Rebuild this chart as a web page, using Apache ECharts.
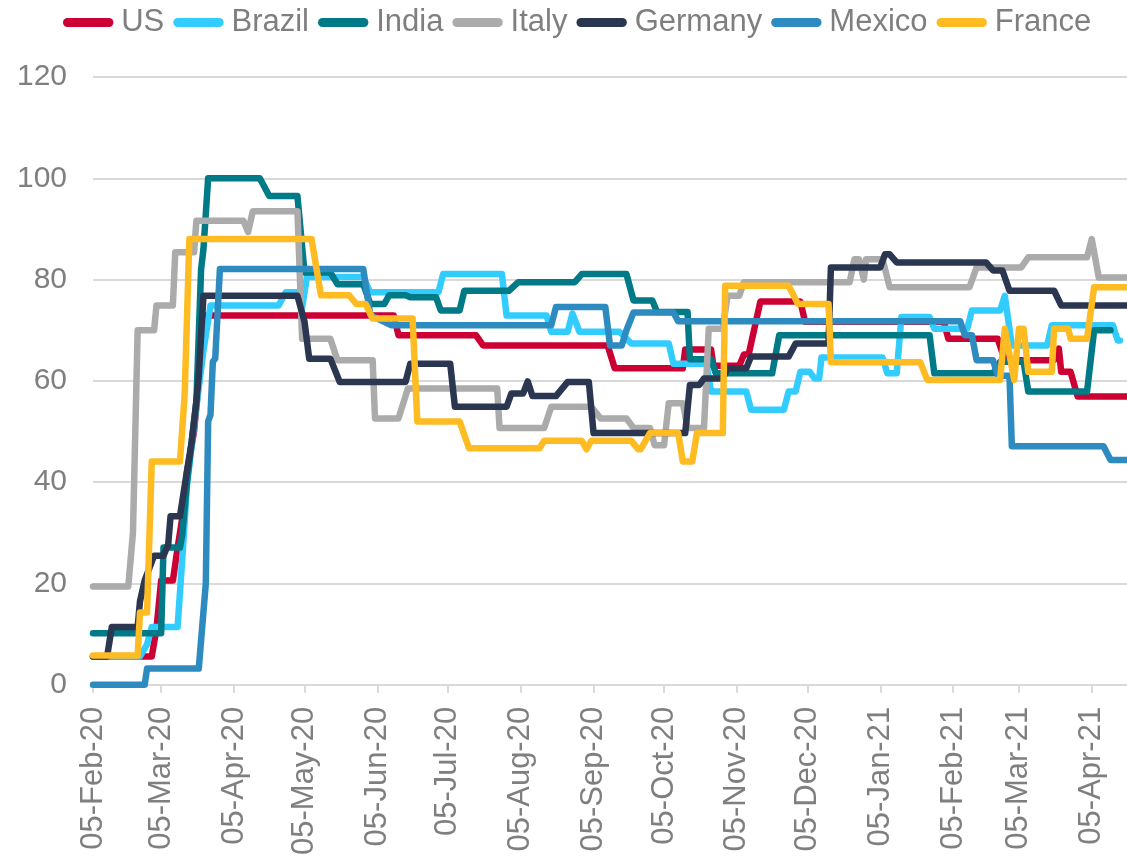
<!DOCTYPE html>
<html>
<head>
<meta charset="utf-8">
<script src="https://cdn.jsdelivr.net/npm/echarts@6/dist/echarts.min.js"></script>
<style>
  html, body { margin: 0; padding: 0; background: #fff; }
  #chart { width: 1127px; height: 858px; }
</style>
</head>
<body>
<div id="chart"></div>
<script>
// stringency index: [date, value] at each turning point
const us = [
  ['2020-02-05', 5.6], ['2020-03-01', 5.6], ['2020-03-03', 11], ['2020-03-05', 20.6], ['2020-03-10', 20.6],
  ['2020-03-12', 27], ['2020-03-14', 33], ['2020-03-16', 42], ['2020-03-19', 50], ['2020-03-21', 60],
  ['2020-03-24', 72.9], ['2020-06-12', 72.9], ['2020-06-14', 69], ['2020-07-17', 69], ['2020-07-20', 67],
  ['2020-09-11', 67], ['2020-09-14', 62.5], ['2020-10-13', 62.5], ['2020-10-14', 66.2], ['2020-10-25', 66.2],
  ['2020-10-26', 63], ['2020-11-06', 63], ['2020-11-08', 65.2], ['2020-11-10', 65.2], ['2020-11-15', 75.7],
  ['2020-12-02', 75.7], ['2020-12-04', 71.7], ['2021-02-01', 71.7], ['2021-02-03', 68.3], ['2021-02-24', 68.3],
  ['2021-02-27', 64.1], ['2021-03-20', 64.1], ['2021-03-22', 66.4], ['2021-03-23', 61.8], ['2021-03-27', 61.8],
  ['2021-03-30', 56.9], ['2021-04-20', 56.9]
];
const brazil = [
  ['2020-02-05', 5.6], ['2020-02-25', 5.6], ['2020-02-28', 8], ['2020-03-01', 11.4], ['2020-03-12', 11.4],
  ['2020-03-14', 25], ['2020-03-16', 39.5], ['2020-03-20', 55], ['2020-03-23', 66], ['2020-03-26', 74.9],
  ['2020-04-24', 74.9], ['2020-04-27', 77.5], ['2020-05-02', 77.5], ['2020-05-04', 74.5], ['2020-05-06', 80.5],
  ['2020-05-30', 80.5], ['2020-06-02', 77.5], ['2020-07-01', 77.5], ['2020-07-03', 81.1], ['2020-07-28', 81.1],
  ['2020-07-30', 72.9], ['2020-08-16', 72.9], ['2020-08-18', 69.7], ['2020-08-25', 69.7], ['2020-08-27', 73.3],
  ['2020-08-30', 69.7], ['2020-09-16', 69.7], ['2020-09-21', 67.4], ['2020-10-07', 67.4], ['2020-10-09', 63.4],
  ['2020-10-23', 63.4], ['2020-10-25', 57.9], ['2020-11-09', 57.9], ['2020-11-11', 54.3], ['2020-11-25', 54.3],
  ['2020-11-27', 57.9], ['2020-11-30', 57.9], ['2020-12-02', 61.8], ['2020-12-06', 61.8], ['2020-12-08', 60.5],
  ['2020-12-10', 60.5], ['2020-12-11', 64.6], ['2021-01-06', 64.6], ['2021-01-08', 61.5], ['2021-01-12', 61.5],
  ['2021-01-14', 72.6], ['2021-01-26', 72.6], ['2021-01-28', 70.3], ['2021-02-11', 70.3], ['2021-02-13', 73.9],
  ['2021-02-25', 73.9], ['2021-02-27', 76.8], ['2021-03-02', 67], ['2021-03-17', 67], ['2021-03-19', 71],
  ['2021-04-14', 71], ['2021-04-16', 68], ['2021-04-17', 68]
];
const india = [
  ['2020-02-05', 10.2], ['2020-03-05', 10.2], ['2020-03-06', 27.1], ['2020-03-13', 27.1], ['2020-03-14', 29.7],
  ['2020-03-16', 40], ['2020-03-20', 56], ['2020-03-22', 82], ['2020-03-23', 86], ['2020-03-25', 100],
  ['2020-04-16', 100], ['2020-04-20', 96.5], ['2020-05-02', 96.5], ['2020-05-05', 81.4], ['2020-05-16', 81.4],
  ['2020-05-19', 79.1], ['2020-05-30', 79.1], ['2020-06-02', 75.2], ['2020-06-08', 75.2], ['2020-06-10', 76.9],
  ['2020-06-17', 76.9], ['2020-06-19', 76.5], ['2020-06-30', 76.5], ['2020-07-02', 73.9], ['2020-07-10', 73.9],
  ['2020-07-12', 77.8], ['2020-07-31', 77.8], ['2020-08-04', 79.5], ['2020-08-28', 79.5], ['2020-08-31', 81.1],
  ['2020-09-19', 81.1], ['2020-09-22', 75.9], ['2020-09-30', 75.9], ['2020-10-02', 73.6], ['2020-10-15', 73.6],
  ['2020-10-16', 64.3], ['2020-10-25', 64.3], ['2020-10-27', 61.5], ['2020-11-20', 61.5], ['2020-11-23', 69],
  ['2021-01-26', 69], ['2021-01-28', 61.5], ['2021-02-22', 61.5], ['2021-02-25', 63.8], ['2021-03-07', 63.8],
  ['2021-03-09', 57.9], ['2021-04-03', 57.9], ['2021-04-06', 70], ['2021-04-13', 70]
];
const italy = [
  ['2020-02-05', 19.4], ['2020-02-20', 19.4], ['2020-02-22', 30], ['2020-02-24', 70], ['2020-03-02', 70],
  ['2020-03-03', 74.9], ['2020-03-10', 74.9], ['2020-03-11', 85.4], ['2020-03-19', 85.4], ['2020-03-20', 91.6],
  ['2020-04-09', 91.6], ['2020-04-11', 89.4], ['2020-04-13', 93.5], ['2020-05-02', 93.5], ['2020-05-04', 68.3],
  ['2020-05-16', 68.3], ['2020-05-19', 64.1], ['2020-06-03', 64.1], ['2020-06-04', 52.6], ['2020-06-14', 52.6],
  ['2020-06-18', 58.5], ['2020-07-26', 58.5], ['2020-07-27', 50.7], ['2020-08-15', 50.7], ['2020-08-18', 54.9],
  ['2020-09-04', 54.9], ['2020-09-08', 52.6], ['2020-09-19', 52.6], ['2020-09-22', 50.7], ['2020-09-29', 50.7],
  ['2020-10-01', 47.3], ['2020-10-05', 47.3], ['2020-10-07', 55.6], ['2020-10-13', 55.6], ['2020-10-15', 50.7],
  ['2020-10-22', 50.7], ['2020-10-24', 70.3], ['2020-10-30', 70.3], ['2020-11-01', 76.8], ['2020-11-06', 76.8],
  ['2020-11-08', 79.5], ['2020-12-23', 79.5], ['2020-12-25', 84], ['2020-12-27', 84], ['2020-12-29', 80],
  ['2020-12-30', 84], ['2021-01-06', 84], ['2021-01-09', 78.5], ['2021-02-12', 78.5], ['2021-02-15', 82.4],
  ['2021-03-06', 82.4], ['2021-03-09', 84.4], ['2021-04-03', 84.4], ['2021-04-05', 88], ['2021-04-08', 80.4],
  ['2021-04-20', 80.4]
];
const germany = [
  ['2020-02-05', 5.6], ['2020-02-11', 5.6], ['2020-02-13', 11.4], ['2020-02-24', 11.4], ['2020-02-25', 16.5],
  ['2020-02-27', 20.6], ['2020-03-02', 25.5], ['2020-03-06', 25.5], ['2020-03-08', 27.7], ['2020-03-09', 33.3],
  ['2020-03-13', 33.3], ['2020-03-16', 42.2], ['2020-03-18', 48], ['2020-03-20', 56], ['2020-03-21', 61],
  ['2020-03-23', 76.8], ['2020-05-02', 76.8], ['2020-05-05', 71.7], ['2020-05-07', 64.4], ['2020-05-16', 64.4],
  ['2020-05-20', 59.8], ['2020-06-17', 59.8], ['2020-06-19', 63.4], ['2020-07-06', 63.4], ['2020-07-08', 54.9],
  ['2020-07-30', 54.9], ['2020-08-01', 57.5], ['2020-08-06', 57.5], ['2020-08-08', 59.9], ['2020-08-10', 57],
  ['2020-08-20', 57], ['2020-08-25', 59.8], ['2020-09-03', 59.8], ['2020-09-05', 49.7], ['2020-10-14', 49.7],
  ['2020-10-16', 59.2], ['2020-10-20', 59.2], ['2020-10-22', 60.5], ['2020-10-30', 60.5], ['2020-11-01', 62.5],
  ['2020-11-09', 62.5], ['2020-11-11', 64.8], ['2020-11-27', 64.8], ['2020-11-30', 67.4], ['2020-12-14', 67.4],
  ['2020-12-15', 82.4], ['2021-01-05', 82.4], ['2021-01-07', 85], ['2021-01-09', 85], ['2021-01-12', 83.4],
  ['2021-02-19', 83.4], ['2021-02-22', 81.8], ['2021-02-26', 81.8], ['2021-03-01', 77.8], ['2021-03-20', 77.8],
  ['2021-03-23', 74.9], ['2021-04-20', 74.9]
];
const mexico = [
  ['2020-02-05', 0], ['2020-02-27', 0], ['2020-02-28', 3.2], ['2020-03-21', 3.2], ['2020-03-24', 20],
  ['2020-03-25', 52], ['2020-03-26', 53.3], ['2020-03-27', 63.8], ['2020-03-28', 64.4], ['2020-03-30', 82.1],
  ['2020-05-30', 82.1], ['2020-06-02', 73], ['2020-06-11', 71], ['2020-08-18', 71], ['2020-08-20', 74.6],
  ['2020-09-10', 74.6], ['2020-09-12', 67], ['2020-09-17', 67], ['2020-09-19', 70], ['2020-09-22', 73.5],
  ['2020-10-09', 73.5], ['2020-10-11', 71.8], ['2021-02-08', 71.8], ['2021-02-10', 69], ['2021-02-13', 69],
  ['2021-02-15', 64.1], ['2021-02-22', 64.1], ['2021-02-24', 61], ['2021-03-01', 61], ['2021-03-02', 47.1],
  ['2021-04-10', 47.1], ['2021-04-13', 44.4], ['2021-04-20', 44.4]
];
const france = [
  ['2020-02-05', 5.8], ['2020-02-24', 5.8], ['2020-02-25', 14.3], ['2020-02-28', 14.3], ['2020-03-01', 44.1],
  ['2020-03-13', 44.1], ['2020-03-15', 57.2], ['2020-03-17', 88], ['2020-05-08', 88], ['2020-05-12', 76.9],
  ['2020-05-24', 76.9], ['2020-05-27', 75.2], ['2020-05-31', 75.2], ['2020-06-03', 72.3], ['2020-06-20', 72.3],
  ['2020-06-22', 52], ['2020-07-10', 52], ['2020-07-14', 46.7], ['2020-08-13', 46.7], ['2020-08-15', 48.2],
  ['2020-08-31', 48.2], ['2020-09-02', 46.5], ['2020-09-04', 48.2], ['2020-09-21', 48.2], ['2020-09-24', 46.5],
  ['2020-09-25', 46.5], ['2020-09-29', 49.7], ['2020-10-11', 49.7], ['2020-10-13', 44.1], ['2020-10-17', 44.1],
  ['2020-10-19', 49.7], ['2020-10-30', 49.7], ['2020-10-31', 78.8], ['2020-11-27', 78.8], ['2020-12-01', 75.2],
  ['2020-12-14', 75.2], ['2020-12-15', 63.7], ['2021-01-22', 63.7], ['2021-01-25', 60.2], ['2021-02-25', 60.2],
  ['2021-02-27', 70.3], ['2021-03-03', 60.2], ['2021-03-05', 70.3], ['2021-03-07', 70.3], ['2021-03-09', 61.8],
  ['2021-03-19', 61.8], ['2021-03-20', 70.3], ['2021-03-26', 70.3], ['2021-03-27', 68.3], ['2021-04-03', 68.3],
  ['2021-04-06', 78.5], ['2021-04-20', 78.5]
];

const countries = ['US', 'Brazil', 'India', 'Italy', 'Germany', 'Mexico', 'France'];
const seriesData = [us, brazil, india, italy, germany, mexico, france];
const colors = ['#cc0033', '#33ccff', '#007a87', '#ababab', '#2b3650', '#2e8bc0', '#ffbb22'];

// x tick labels: the 5th of each month
const tickDates = ['2020-02-05', '2020-03-05', '2020-04-05', '2020-05-05', '2020-06-05', '2020-07-05',
  '2020-08-05', '2020-09-05', '2020-10-05', '2020-11-05', '2020-12-05', '2021-01-05', '2021-02-05',
  '2021-03-05', '2021-04-05'];
const monthNames = ['Jan', 'Feb', 'Mar', 'Apr', 'May', 'Jun', 'Jul', 'Aug', 'Sep', 'Oct', 'Nov', 'Dec'];

const ts = s => Date.parse(s);
const tickValues = tickDates.map(ts);

function fmtDate(v) {
  const d = new Date(v);
  const dd = String(d.getUTCDate()).padStart(2, '0');
  return dd + '-' + monthNames[d.getUTCMonth()] + '-' + String(d.getUTCFullYear()).slice(2);
}

const font = "'Liberation Sans', Arial, sans-serif";
const textGray = '#7f7f7f';
const gridGray = '#d9d9d9';

const chart = echarts.init(document.getElementById('chart'));

const option = {
  animation: false,
  color: colors,
  textStyle: { fontFamily: font },
  legend: {
    top: 2,
    left: 58,
    itemGap: 9,
    itemWidth: 56,
    itemHeight: 9,
    icon: 'path://M5,0 H51 A5,5 0 0 1 51,10 H5 A5,5 0 0 1 5,0 Z',
    textStyle: { fontSize: 31, color: textGray, fontFamily: font },
    data: countries
  },
  grid: { left: 93, right: 0, top: 77, bottom: 170 },
  xAxis: {
    // dates as timestamps on a plain value axis so the ticks can sit on the 5th
    type: 'value',
    min: ts('2020-02-05'),
    max: ts('2021-04-20'),
    axisLine: { lineStyle: { color: gridGray, width: 2 } },
    axisTick: { show: true, customValues: tickValues, length: 8, lineStyle: { color: gridGray, width: 2 } },
    axisLabel: {
      customValues: tickValues,
      rotate: 90,
      margin: 22,
      fontSize: 31,
      color: textGray,
      fontFamily: font,
      hideOverlap: false,
      formatter: v => fmtDate(v)
    },
    splitLine: { show: false }
  },
  yAxis: {
    type: 'value',
    min: 0,
    max: 120,
    interval: 20,
    axisLine: { show: false },
    axisTick: { show: false },
    axisLabel: { fontSize: 30, color: textGray, fontFamily: font, margin: 26 },
    splitLine: { lineStyle: { color: gridGray, width: 2 } }
  },
  series: countries.map((name, i) => ({
    name: name,
    type: 'line',
    data: seriesData[i].map(p => [ts(p[0]), p[1]]),
    showSymbol: false,
    symbol: 'none',
    clip: false,
    lineStyle: { width: 6.5, cap: 'round', join: 'round', color: colors[i] },
    itemStyle: { color: colors[i] }
  }))
};

chart.setOption(option);
</script>
</body>
</html>
